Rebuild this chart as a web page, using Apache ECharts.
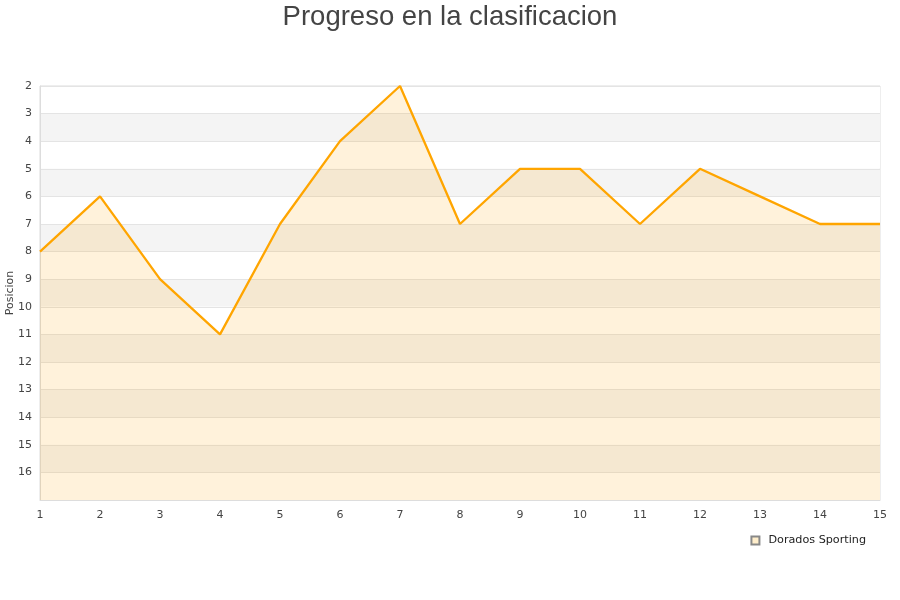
<!DOCTYPE html>
<html><head><meta charset="utf-8">
<script src="https://cdn.jsdelivr.net/npm/echarts@6/dist/echarts.min.js"></script>
<style>html,body{margin:0;padding:0;background:#fff}#c{width:900px;height:600px}</style>
</head><body><div id="c"></div>
<script>
const jornadas = ['1','2','3','4','5','6','7','8','9','10','11','12','13','14','15'];
const posiciones = [8,6,9,11,7,4,2,7,5,5,7,5,6,7,7];
const seriesName = 'Dorados Sporting';
const chart = echarts.init(document.getElementById('c'));
chart.setOption({
  animation: false,
  title: {text: 'Progreso en la clasificacion', left: 'center', top: -2,
    textStyle: {fontFamily: 'Liberation Sans', fontSize: 27.5, fontWeight: 'normal', color: '#444'}},
  legend: {data: [{name: seriesName, icon: 'rect'}], right: 29, top: 530, itemWidth: 8, itemHeight: 8, itemGap: 10,
    textStyle: {fontFamily: 'DejaVu Sans', fontSize: 11.2, color: '#222', padding: [0, 0, 0, 4]}},
  grid: {left: 40, right: 20, top: 86, bottom: 100, containLabel: false, outerBoundsMode: 'none',
    show: true, borderColor: '#ddd', borderWidth: 1},
  xAxis: {type: 'category', data: jornadas, boundaryGap: false,
    axisLine: {lineStyle: {color: '#ddd'}}, axisTick: {show: false},
    axisLabel: {fontFamily: 'DejaVu Sans', fontSize: 11, color: '#444', margin: 10},
    splitLine: {show: false}},
  yAxis: {type: 'value', inverse: true, min: 2, max: 17, interval: 1,
    name: 'Posicion', nameLocation: 'middle', nameGap: 24, nameRotate: 90, nameMoveOverlap: false,
    nameTextStyle: {fontFamily: 'DejaVu Sans', fontSize: 11, color: '#444'},
    axisLine: {show: true, lineStyle: {color: '#ddd'}}, axisTick: {show: false},
    axisLabel: {fontFamily: 'DejaVu Sans', fontSize: 11, color: '#444', margin: 8,
      formatter: v => v >= 17 ? '' : String(v)},
    splitLine: {show: true, lineStyle: {color: '#e4e4e4'}},
    splitArea: {show: true, areaStyle: {color: ['#ffffff', '#f4f4f4']}}},
  series: [{name: seriesName, type: 'line', data: posiciones, symbol: 'none',
    lineStyle: {color: '#ffa500', width: 2.3}, itemStyle: {color: '#ffeecb', borderColor: '#888', borderWidth: 1},
    areaStyle: {color: 'rgba(255,165,0,0.2)', origin: 'end'}}]
});
</script></body></html>
